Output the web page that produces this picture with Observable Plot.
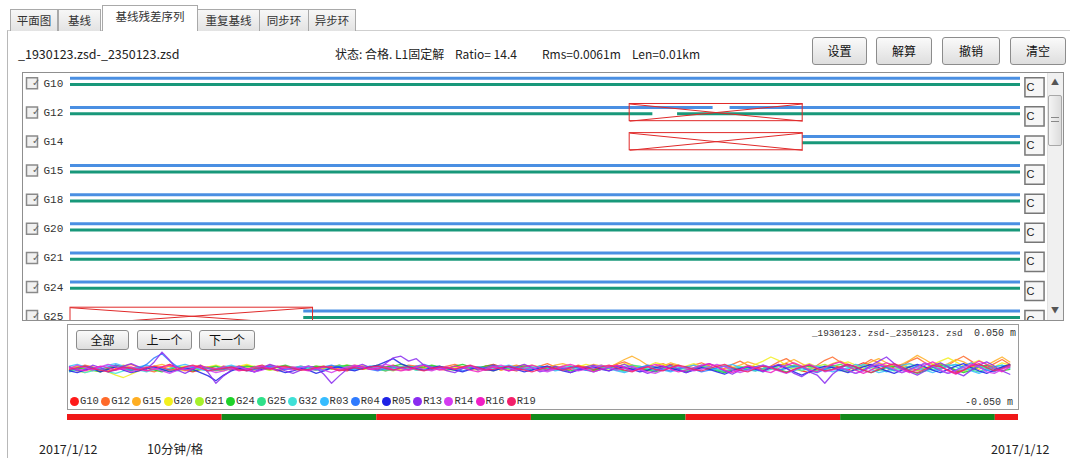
<!DOCTYPE html>
<html><head><meta charset="utf-8">
<script src="https://cdn.jsdelivr.net/npm/d3@7"></script>
<script src="https://cdn.jsdelivr.net/npm/@observablehq/plot@0.6"></script>
<style>
body{margin:0;background:#fff;}
#root{position:relative;width:1070px;height:458px;overflow:hidden;background:#fff;font-family:"Noto Sans CJK SC","Noto Sans",sans-serif;color:#222;}
#root div{position:absolute;box-sizing:border-box;}
.tab{top:9px;height:22px;border:1px solid #a9a9a9;border-bottom:none;background:linear-gradient(#f7f7f7,#e3e3e3);font-size:11.5px;line-height:21px;text-align:center;color:#333;}
.tab.active{top:5px;height:26px;background:#fff;line-height:20px;z-index:2;}
.btn{border:1px solid #8c8c8c;border-radius:3px;background:linear-gradient(#fafafa,#dedede);font-size:12px;text-align:center;color:#111;}
.txt{white-space:pre;line-height:1;}
.mono{font-family:"Liberation Mono","DejaVu Sans Mono",monospace;}
</style></head>
<body>
<div id="root">
  <div style="left:7px;top:30px;width:1070px;height:440px;border-left:1px solid #b8b8b8;border-top:1px solid #cfcfcf;"></div>
  <div class="tab" style="left:10px;width:48px;">平面图</div>
  <div class="tab" style="left:58px;width:43px;">基线</div>
  <div class="tab active" style="left:102px;width:96px;">基线残差序列</div>
  <div class="tab" style="left:197px;width:63px;">重复基线</div>
  <div class="tab" style="left:259px;width:50px;">同步环</div>
  <div class="tab" style="left:308px;width:48px;">异步环</div>

  <div class="txt" style="left:18px;top:48px;font-size:12.5px;">_1930123.zsd-_2350123.zsd</div>
  <div class="txt" style="left:335px;top:48px;font-size:12px;">状态: 合格. L1固定解</div>
  <div class="txt" style="left:455px;top:48px;font-size:12px;">Ratio= 14.4</div>
  <div class="txt" style="left:542px;top:48px;font-size:12px;">Rms=0.0061m</div>
  <div class="txt" style="left:632px;top:48px;font-size:12px;">Len=0.01km</div>

  <div class="btn" style="left:812px;top:37px;width:55px;height:28px;line-height:26px;">设置</div>
  <div class="btn" style="left:876px;top:37px;width:56px;height:28px;line-height:26px;">解算</div>
  <div class="btn" style="left:942px;top:37px;width:58px;height:28px;line-height:26px;">撤销</div>
  <div class="btn" style="left:1010px;top:37px;width:56px;height:28px;line-height:26px;">清空</div>

  <div style="left:22px;top:72px;width:1042px;height:249px;border:1px solid #8f8f8f;"></div>
  <div id="topplot" style="left:0;top:72px;width:1070px;height:248px;overflow:hidden;"></div>
  <div style="left:1047px;top:73px;width:16px;height:247px;background:#f0f0f0;border-left:1px solid #e2e2e2;"></div>
  <div class="txt" style="left:1051px;top:78px;font-size:8px;color:#555;">▲</div>
  <div style="left:1048px;top:95px;width:14px;height:51px;background:linear-gradient(90deg,#f4f4f4,#dcdcdc);border:1px solid #a8a8a8;border-radius:2px;"></div>
  <div style="left:1051px;top:117px;width:8px;height:5px;border-top:1px solid #888;border-bottom:1px solid #888;"></div>
  <div class="txt" style="left:1051px;top:306px;font-size:8px;color:#555;">▼</div>

  <div style="left:67px;top:324px;width:952px;height:86px;border:1px solid #9a9a9a;"></div>
  <div id="botplot" style="left:0;top:322px;width:1070px;height:90px;"></div>
  <div class="btn" style="left:76px;top:330px;width:53px;height:20px;line-height:18px;">全部</div>
  <div class="btn" style="left:137px;top:330px;width:55px;height:20px;line-height:18px;">上一个</div>
  <div class="btn" style="left:199px;top:330px;width:56px;height:20px;line-height:18px;">下一个</div>
  <div class="txt mono" style="left:812px;top:329px;font-size:9.3px;color:#333;">_1930123. zsd-_2350123. zsd</div>
  <div class="txt mono" style="left:974px;top:329px;font-size:10px;color:#333;">0.050 m</div>
  <div class="txt mono" style="left:965px;top:398px;font-size:10px;color:#333;">-0.050 m</div>
  <div id="legend" style="left:0;top:396px;width:1070px;height:12px;"></div>
  <div id="barplot" style="left:0;top:414px;width:1070px;height:6px;"></div>

  <div class="txt" style="left:39px;top:443px;font-size:12.5px;">2017/1/12</div>
  <div class="txt" style="left:147px;top:443px;font-size:12.5px;">10分钟/格</div>
  <div class="txt" style="left:991px;top:443px;font-size:12.5px;">2017/1/12</div>
</div>
<script>
// ---- data ----
const T = 61.5; // minutes covered by the time axis
const rowSats = ["G10","G12","G14","G15","G18","G20","G21","G24","G25"];
// blue (L1) and green (L2) observation spans: [sat, start min, end min]
const blueSpans = [["G10",0,61.5],["G12",0,41.6],["G12",42.7,61.5],["G14",47.4,61.5],["G15",0,61.5],["G18",0,61.5],["G20",0,61.5],["G21",0,61.5],["G24",0,61.5],["G25",15.1,61.5]];
const greenSpans = [["G10",0,61.5],["G12",0,37.7],["G12",39.3,61.5],["G14",47.4,61.5],["G15",0,61.5],["G18",0,61.5],["G20",0,61.5],["G21",0,61.5],["G24",0,61.5],["G25",15.1,61.5]];
// rejected (deleted) intervals
const rejected = [["G12",36.2,47.4],["G14",36.2,47.4],["G25",0,15.7]];

// residual series, mm, one value per 0.5 min
const residSats = ["G10","G12","G15","G20","G21","G24","G25","G32","R03","R04","R05","R13","R14","R16","R19"];
const residColors = ["#ff1a1a","#ff6a2a","#ffae22","#f2ef1e","#a6f02a","#1fd22a","#2fe08a","#3fe0d6","#36bcff","#2f7bff","#1e22e6","#8a2cf0","#d43cf0","#f01ec4","#f2206a"];
const residStart = [0,0,0,0,0,0,15,0,0,0,0,0,0,0,0];
const resG10 = [2,-1,3,1,-2,0,4,2,-1,1,-3,0,2,5,1,-2,-4,-1,2,0,3,1,-2,-1,2,4,0,-3,-1,1,2,0,-2,1,3,-1,-3,0,2,1,-1,2,4,1,-2,0,1,3,-1,-2,0,2,1,-1,3,5,2,-1,-3,0,1,-2,0,2,1,-1,3,0,-2,1,2,4,1,-1,0,-3,-1,2,5,3,0,-2,1,3,-1,-4,-2,1,3,2,-1,0,4,6,2,-3,-5,-1,2,4,1,-2,3,7,4,-1,-3,2,5,1,-2,0,3,6,2,-4,-2,1,4,2,-1,1,3];
const resG12 = [-2,1,4,2,-1,-3,0,3,5,1,-2,-4,0,3,1,-1,2,4,0,-3,-1,2,3,0,-2,1,4,2,-1,0,3,1,-2,0,2,4,1,-1,3,2,0,-3,-1,2,4,3,0,-2,1,3,5,2,-1,0,3,1,-2,2,4,1,-1,3,6,2,-2,0,4,2,-3,-1,2,5,8,4,0,-2,3,6,2,-1,1,4,7,3,-2,0,5,9,4,1,-2,3,8,12,6,2,-1,4,10,14,8,3,0,5,11,7,2,-2,3,9,13,7,2,-1,4,10,15,9,3,1,6,11,5];
const resG15 = [1,3,0,-2,-4,-1,2,4,1,-1,0,3,5,2,-1,-3,0,2,1,-2,-3,0,2,4,1,-1,0,3,2,-1,-2,1,3,1,-1,0,2,4,3,0,-1,2,1,-2,0,3,2,0,-1,1,3,2,-1,0,2,1,-2,0,3,4,2,-1,1,4,6,3,0,2,5,3,1,6,11,15,10,4,1,3,7,4,0,-2,2,5,3,-1,1,4,8,5,2,-1,3,7,11,6,1,-1,2,6,9,5,1,3,8,12,7,2,5,10,16,11,5,2,6,11,8,3,-1,4,9,14,8];
const resG20 = [0,-3,-5,-2,1,-4,-8,-11,-7,-3,0,2,-1,-3,1,3,0,-2,2,4,1,-1,3,5,2,0,-2,1,3,0,-2,0,2,-1,1,3,4,1,-1,2,3,0,-2,1,2,-1,0,3,1,-1,1,2,0,-2,1,3,2,-1,0,2,4,2,-1,1,3,0,2,5,3,0,-2,2,6,4,1,3,7,5,2,0,3,6,2,-1,1,4,2,-2,0,5,9,14,10,4,1,3,6,2,-1,2,5,8,4,0,3,7,4,-1,2,6,3,0,5,9,13,8,3,6,10,5,2,7,4];
const resG21 = [-1,2,0,-3,-1,1,3,0,-2,1,2,-1,-3,0,2,1,-1,3,1,-2,0,2,-1,1,3,0,-2,-1,2,1,-1,0,2,3,0,-2,1,2,-1,0,1,-1,-3,0,2,1,-1,0,2,-1,-2,1,0,2,-1,-3,0,1,3,0,-1,2,1,-2,0,3,1,-1,2,4,1,-2,0,3,2,-1,-3,1,4,2,-1,0,3,1,-2,-4,-1,2,3,0,-2,1,4,2,-1,-3,0,3,5,1,-2,-4,0,3,1,-2,2,5,2,-1,-3,0,4,6,2,-2,-4,1,3,0,-2,2,4];
const resG24 = [-3,-1,1,-2,-4,0,2,-1,-3,0,1,-2,-4,-1,2,0,-3,-1,1,3,0,-2,1,3,2,-1,0,2,4,1,-1,1,3,2,0,2,4,3,1,2,4,2,3,5,3,1,2,4,2,0,3,5,2,1,3,4,2,0,1,3,1,-1,0,2,-1,-3,-1,1,-2,0,2,-1,-3,0,1,-2,-4,-1,1,-2,-4,-1,2,0,-3,-5,-2,1,-1,-3,0,2,-1,-4,-2,1,3,0,-3,-1,2,4,1,-2,-5,-2,1,3,0,-3,-6,-3,1,4,2,-2,-5,-2,2,4,1,-3,-1];
const resG25 = [1,3,0,-2,1,4,2,-1,0,2,-1,-3,0,2,1,-2,-1,1,3,0,-2,0,2,1,-1,3,2,0,-2,-1,1,3,0,-1,2,1,-2,0,3,2,0,-2,1,4,3,-1,-3,0,2,-1,-3,0,2,1,-2,-4,-1,1,-1,2,3,0,-2,1,4,2,-1,-3,0,3,5,2,-2,-1,2,4,1,-3,-1,2,4,1,-2,0,3,5,1,-2,-4,0,2,4,1];
const resG32 = [-4,-2,-5,-3,-1,-4,-6,-3,-1,-2,-4,-1,0,-2,-3,0,1,-1,-3,-1,1,2,0,-2,-1,1,3,1,-1,0,2,0,-2,-1,1,2,0,-1,1,3,1,-1,0,2,1,-2,-1,1,2,0,-1,1,3,1,-2,0,2,1,-1,1,2,0,-3,-1,1,3,1,-2,0,2,1,-2,-4,-1,2,0,-2,1,3,1,-1,1,4,2,-1,-3,0,2,1,-2,-4,-1,2,4,1,-2,0,3,1,-1,-3,0,2,5,3,-1,-4,-2,1,3,0,-3,-1,2,5,2,-2,0,3,1,-2,1,3];
const resR03 = [3,5,2,-1,1,4,6,3,0,2,4,1,-2,0,3,5,2,-1,-3,0,2,4,1,-1,0,3,1,-2,-1,1,3,1,-1,-3,0,2,-1,-2,0,3,2,-1,-2,1,3,0,-2,-1,2,1,-1,0,3,1,-2,-1,2,4,1,-1,0,3,1,-3,-1,2,0,-2,1,3,0,-3,-5,-2,1,3,0,-2,-4,-1,2,4,1,-2,0,3,5,1,-2,-3,0,2,-2,-5,-3,1,4,2,-1,-4,-2,1,5,3,-1,-5,-3,0,4,6,2,-2,-5,-1,3,5,1,-3,-6,-2,2,4,0];
const resR04 = [-2,0,3,1,-1,2,4,1,-2,0,5,13,18,9,2,-1,1,3,0,-2,-1,2,0,-3,-1,1,3,2,-1,0,1,-2,-1,2,4,1,-1,0,2,-1,-3,0,2,1,-1,3,5,2,0,1,-1,-3,0,2,1,-2,0,3,1,-1,-2,1,3,0,-1,2,1,-2,-4,-1,1,3,0,-2,1,4,2,-1,-3,0,2,-1,-4,-2,1,3,0,-3,-1,2,4,1,-2,0,3,1,-3,-5,-1,2,0,-3,-6,-2,2,4,1,-2,-5,-1,3,6,2,-3,-6,-2,3,7,2,-2,-4,1,4];
const resR05 = [-3,-5,-2,0,-4,-1,2,-2,-5,-3,0,2,-1,-4,-2,1,-1,-5,-9,-15,-8,-3,0,-2,-4,-1,1,-2,-5,-3,0,-2,-6,-3,1,2,-1,-3,0,2,4,8,12,6,2,0,-2,1,3,0,-2,-4,-1,1,-1,-3,0,2,-1,-4,-2,1,3,0,-3,-5,-2,0,2,-1,-3,0,2,-1,-4,-2,1,3,0,-2,-5,-2,1,-1,-4,-7,-3,0,2,-1,-3,1,4,0,-4,-8,-4,0,3,1,-2,-5,-1,2,5,1,-3,-6,-2,2,5,2,-2,-5,-1,3,6,1,-3,-6,-2,2,5];
const resR13 = [2,-3,-1,4,1,-4,-2,3,6,2,-1,8,20,10,-2,-6,-1,4,-5,-18,-9,-2,3,0,-4,1,5,2,-3,-6,-2,3,1,-7,-18,-9,-1,2,5,1,-2,6,13,15,9,12,4,-1,2,-3,-5,0,3,-2,1,4,0,-3,2,5,1,-4,-2,3,0,-5,-1,2,4,0,-3,2,5,1,-2,-6,-3,1,4,-1,-5,-1,3,6,2,-3,-7,-2,3,0,-4,2,5,1,-6,-10,-4,-8,-18,-7,0,5,2,-3,4,9,14,6,0,-4,-8,-3,3,7,2,-5,-9,-2,4,8,3,-3,-7];
const resR14 = [0,4,1,-2,2,5,2,-1,-4,-1,2,0,-3,-6,-2,1,3,0,-2,-5,-3,0,2,-1,-4,-2,1,3,0,-2,1,3,0,-2,-5,-1,2,4,1,-1,2,5,3,0,-2,1,-1,-3,0,2,-1,1,3,0,-2,2,4,1,-2,-1,1,-2,-4,-1,2,0,-3,-1,2,4,1,-2,0,3,-1,-4,-6,-2,1,3,0,-3,-1,2,5,2,-2,-5,-2,1,4,1,-3,-6,-2,2,5,1,-4,-2,1,-2,-6,-3,2,6,3,-1,-5,-2,2,7,3,-2,-6,-3,1,5,2,-4,-6,-1,3];
const resR16 = [1,-1,-3,0,3,1,-2,0,2,-1,-3,-1,2,4,1,-2,0,3,1,-1,2,0,-3,-1,2,3,0,-2,1,2,-1,-3,0,2,1,-2,0,3,2,-1,0,2,-1,-3,-1,2,4,1,-2,0,3,1,-2,-4,-1,2,0,-3,-1,2,4,1,-2,0,3,5,2,-1,-4,-1,2,4,1,-3,-1,2,5,3,-1,-4,-2,1,4,6,2,-2,-5,-1,3,1,-3,-5,0,4,7,3,-2,-4,1,5,8,3,-2,-6,-2,3,7,4,-1,-5,-1,4,8,3,-3,-7,-2,4,9,5,0,-4,2];
const resR19 = [-1,1,3,0,-2,-4,-1,2,0,-2,1,3,1,-2,-1,2,4,1,-3,-1,0,2,-1,-3,0,1,-1,2,3,0,-2,-1,1,3,0,-3,-1,1,-1,2,3,0,-2,1,2,-1,-3,0,2,1,-1,2,4,1,-2,-1,1,3,0,-2,-4,-1,2,0,-2,1,3,1,-1,2,4,1,-2,-4,0,2,-1,-3,1,4,2,-1,-3,0,3,5,1,-2,-4,0,3,1,-2,-5,-1,2,4,0,-3,-1,2,5,2,-2,-5,-1,3,6,2,-3,-5,-1,4,2,-2,-6,-2,3,6,1,-3,0,4];
const residValues = [resG10,resG12,resG15,resG20,resG21,resG24,resG25,resG32,resR03,resR04,resR05,resR13,resR14,resR16,resR19];
const sampleStep = 0.5; // minutes between epochs

// 10-minute grid cells of the time bar
const gridStart = [0,10,20,30,40,50,60];
const gridEnd = [10,20,30,40,50,60,61.5];

// ---- build ----
const rowIdx = new Map(rowSats.map((s,i)=>[s,i]));
const spanRows = a => a.map(([sat,s,e]) => ({row: rowIdx.get(sat), s, e}));
const blue = spanRows(blueSpans), green = spanRows(greenSpans), rej = spanRows(rejected);
const rows = rowSats.map((s,i)=>({sat:s, row:i}));
const boxTop = 0.22, boxBot = 0.37;

const topPlot = Plot.plot({
  width:1070, height:248, marginLeft:70, marginRight:50, marginTop:0, marginBottom:0,
  x:{domain:[0,T], range:[70,1020], axis:null},
  y:{domain:[0,8], range:[8.8,241.6], axis:null},
  style:{background:"transparent", overflow:"hidden"},
  marks:[
    Plot.ruleY(blue, {y:"row", x1:"s", x2:"e", dy:-3, stroke:"#4a8fe2", strokeWidth:3}),
    Plot.ruleY(green, {y:"row", x1:"s", x2:"e", dy:3.3, stroke:"#18987a", strokeWidth:3}),
    Plot.rect(rej, {x1:"s", x2:"e", y1:d=>d.row-boxTop, y2:d=>d.row+boxBot, fill:"none", stroke:"#e02a2a", strokeWidth:1}),
    Plot.link(rej, {x1:"s", x2:"e", y1:d=>d.row-boxTop, y2:d=>d.row+boxBot, stroke:"#e02a2a", strokeWidth:1}),
    Plot.link(rej, {x1:"s", x2:"e", y1:d=>d.row+boxBot, y2:d=>d.row-boxTop, stroke:"#e02a2a", strokeWidth:1}),
    Plot.dot(rows, {y:"row", frameAnchor:"left", dx:-38.5, dy:2, symbol:"square", r:6.2, fill:"#f1f1f1", stroke:"#8a8a8a"}),
    Plot.text(rows, {y:"row", frameAnchor:"left", dx:-38.5, dy:1.5, text:()=>"✓", fontSize:10, fill:"#666", fontFamily:"DejaVu Sans"}),
    Plot.text(rows, {y:"row", frameAnchor:"left", dx:-27, dy:2, text:"sat", textAnchor:"start", fontSize:11, fill:"#333", fontFamily:"Liberation Mono"}),
    Plot.dot(rows, {y:"row", frameAnchor:"right", dx:14, dy:6, symbol:"square", r:10.8, fill:"#f6f6f6", stroke:"#777"}),
    Plot.text(rows, {y:"row", frameAnchor:"right", dx:14, dy:6, text:()=>"C", fontSize:11, fill:"#222", fontFamily:"Liberation Sans"})
  ]
});
document.getElementById("topplot").append(topPlot);

const resid = residSats.flatMap((sat,k) => residValues[k].map((v,i) => ({sat, t: residStart[k] + i*sampleStep, v: v/1000})));
const botPlot = Plot.plot({
  width:1070, height:90, marginLeft:68, marginRight:52, marginTop:5, marginBottom:3,
  x:{domain:[0,T], range:[69,1017], axis:null},
  y:{domain:[-0.05,0.05], range:[87,5], axis:null},
  color:{domain:residSats, range:residColors},
  style:{background:"transparent", overflow:"hidden"},
  marks:[
    Plot.line(resid, {x:"t", y:"v", z:"sat", stroke:"sat", strokeWidth:1.3, strokeOpacity:0.85})
  ]
});
document.getElementById("botplot").append(botPlot);

const barPlot = Plot.plot({
  width:1070, height:6, marginLeft:67, marginRight:52, marginTop:0, marginBottom:0,
  x:{domain:[0,T], range:[67,1018], axis:null},
  color:{type:"identity"},
  style:{background:"transparent"},
  marks:[
    Plot.rect(gridStart, {x1:d=>d, x2:(d,i)=>gridEnd[i], fill:(d,i)=> i%2 ? "#12891c" : "#f01818"})
  ]
});
document.getElementById("barplot").append(barPlot);

// legend
const lg = document.getElementById("legend");
residSats.forEach((s,i) => {
  const x = 70 + i*31.2;
  const dot = document.createElement("div");
  dot.style.cssText = `left:${x}px;top:1px;width:9px;height:9px;border-radius:50%;background:${residColors[i]};`;
  const t = document.createElement("div");
  t.className = "txt mono";
  t.style.cssText = `left:${x+10}px;top:0px;font-size:10.5px;color:#333;`;
  t.textContent = s;
  lg.append(dot, t);
});
</script>
</body></html>
